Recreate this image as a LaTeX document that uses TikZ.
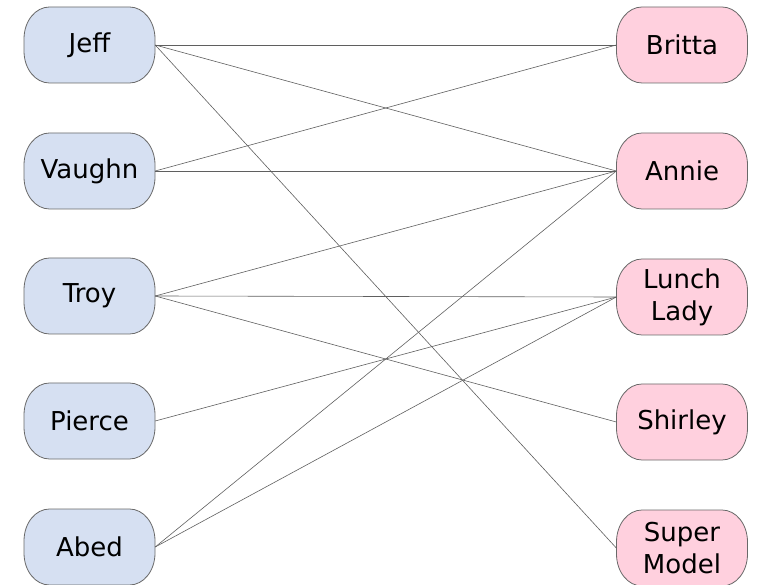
\documentclass[tikz,border=0pt]{standalone}
\usepackage{fontspec}
\setmainfont{DejaVu Sans}
\definecolor{lblue}{RGB}{214,224,242}
\definecolor{lpink}{RGB}{255,208,222}
\definecolor{bgray}{RGB}{105,105,105}
\definecolor{lgray}{RGB}{95,95,95}
\newcommand\pbox[3]{\begin{scope}[shift={(#1,#2)}]
\filldraw[fill=#3,draw=bgray,line width=0.8pt] (-65.5,-6) .. controls (-65.5,-24) and (-54,-38) .. (-40,-38) -- (40,-38) .. controls (54,-38) and (65.5,-24) .. (65.5,-6) -- (65.5,6) .. controls (65.5,24) and (54,38) .. (40,38) -- (-40,38) .. controls (-54,38) and (-65.5,24) .. (-65.5,6) -- cycle;
\end{scope}}
\begin{document}
\begin{tikzpicture}[x=1pt,y=-1pt,
  person/.style={minimum width=131pt, minimum height=76pt, inner sep=0pt, align=center, font=\fontsize{26}{32}\selectfont},
  link/.style={draw=lgray, line width=0.6pt}]
\useasboundingbox (0,0) rectangle (758,585);
\pbox{89.5}{45}{lblue}
\pbox{89.5}{171}{lblue}
\pbox{89.5}{296}{lblue}
\pbox{89.5}{421}{lblue}
\pbox{89.5}{547}{lblue}
\pbox{682}{45}{lpink}
\pbox{682}{171}{lpink}
\pbox{682}{297}{lpink}
\pbox{682}{422}{lpink}
\pbox{682}{548}{lpink}
\node[person] (jeff) at (89.5,45) {Jeff};
\node[person] (vaughn) at (89.5,171) {Vaughn};
\node[person] (troy) at (89.5,296) {Troy};
\node[person] (pierce) at (89.5,421) {Pierce};
\node[person] (abed) at (89.5,547) {Abed};
\node[person] (britta) at (682,45) {Britta};
\node[person] (annie) at (682,171) {Annie};
\node[person] (lunch) at (682,297) {Lunch\\Lady};
\node[person] (shirley) at (682,422) {Shirley};
\node[person] (super) at (682,548) {Super\\Model};
\draw[link] (jeff.east) -- (britta.west);
\draw[link] (jeff.east) -- (annie.west);
\draw[link] (jeff.east) -- (super.west);
\draw[link] (vaughn.east) -- (britta.west);
\draw[link] (vaughn.east) -- (annie.west);
\draw[link] (troy.east) -- (annie.west);
\draw[link] (troy.east) -- (lunch.west);
\draw[link] (troy.east) -- (shirley.west);
\draw[link] (pierce.east) -- (lunch.west);
\draw[link] (abed.east) -- (annie.west);
\draw[link] (abed.east) -- (lunch.west);
\end{tikzpicture}
\end{document}
